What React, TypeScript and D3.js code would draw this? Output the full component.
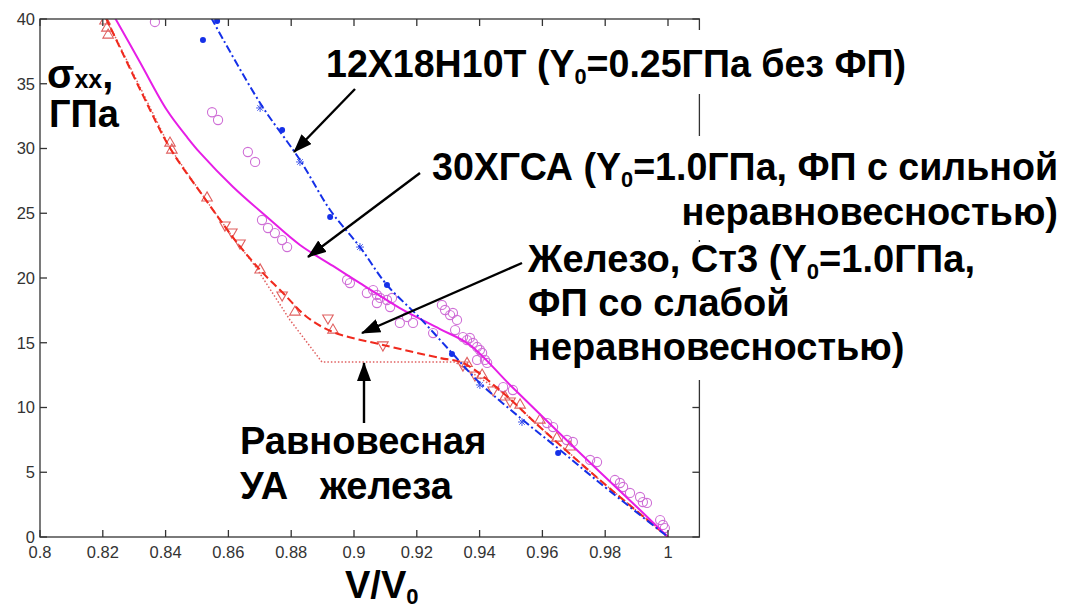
import React from "react";
import * as d3 from "d3";

type Pt = [number, number];

// axis ticks
const xTicks = [0.8, 0.82, 0.84, 0.86, 0.88, 0.9, 0.92, 0.94, 0.96, 0.98, 1.0];
const xTickLabels = ["0.8", "0.82", "0.84", "0.86", "0.88", "0.9", "0.92", "0.94", "0.96", "0.98", "1"];
const yTicks = [0, 5, 10, 15, 20, 25, 30, 35, 40];

// 12Х18Н10Т, Y0 = 0.25 ГПа, no phase transition
const steelLine: Pt[] = [
  [0.8545, 40.1], [0.8701, 33.51], [0.8828, 29.11], [0.8924, 25.25], [0.9019, 22.39],
  [0.9105, 19.46], [0.921, 16.91], [0.9315, 14.13], [0.9401, 11.89], [0.9538, 9.03],
  [0.9656, 6.72], [0.9783, 4.17], [1.0, 0],
];
const steelDots: Pt[] = [
  [0.8519, 38.38], [0.8564, 39.85], [0.8771, 31.43], [0.8924, 24.71], [0.9105, 19.46],
  [0.9312, 14.13], [0.965, 6.49],
];
const steelStars: Pt[] = [
  [0.8701, 33.13], [0.8828, 28.96], [0.9019, 22.39], [0.9401, 11.74], [0.9535, 8.88],
];

// 30ХГСА, strongly non-equilibrium phase transition
const hgsaLine: Pt[] = [
  [0.8239, 40.08], [0.8318, 36.68], [0.8404, 32.97], [0.8468, 30.89], [0.851, 29.66],
  [0.8615, 27.03], [0.8723, 24.71], [0.8828, 22.55], [0.8933, 20.93], [0.9019, 19.61],
  [0.9146, 17.68], [0.9274, 16.06], [0.9369, 14.83], [0.9497, 11.74], [0.9634, 8.49],
  [0.9783, 5.02], [0.9911, 2.08], [1.0, 0],
];
const hgsaCircles: Pt[] = [
  [0.8366, 39.77], [0.8548, 32.8], [0.8567, 32.2], [0.8662, 29.73], [0.8685, 28.96],
  [0.8707, 24.48], [0.8726, 23.86], [0.8748, 23.47], [0.8771, 22.93], [0.8787, 22.39],
  [0.8978, 19.85], [0.8987, 19.61], [0.9041, 18.84], [0.9061, 19.07], [0.9073, 18.69],
  [0.9083, 18.46], [0.9105, 18.3], [0.9121, 18.46], [0.9073, 18.07], [0.9115, 17.76],
  [0.9169, 16.99], [0.9188, 16.53], [0.9146, 16.53], [0.9252, 15.75],
  [0.928, 17.92], [0.929, 17.53], [0.9306, 17.14], [0.9315, 17.3], [0.9328, 16.76],
  [0.9322, 15.98], [0.9347, 15.44], [0.936, 15.21], [0.9369, 15.37], [0.9379, 14.98],
  [0.9392, 14.67], [0.9401, 14.44], [0.9408, 14.21], [0.9392, 13.67], [0.9417, 13.67],
  [0.9424, 13.44], [0.9475, 11.58], [0.9506, 11.35], [0.9615, 8.8], [0.9634, 8.49],
  [0.9678, 7.49], [0.9697, 7.34], [0.9752, 5.95], [0.9774, 5.79], [0.9831, 4.4],
  [0.9847, 4.17], [0.9857, 3.86], [0.9879, 3.4], [0.9911, 3.09], [0.992, 2.7],
  [0.9933, 2.63], [0.9975, 1.31], [0.9984, 0.93], [0.999, 0.69],
];

// Железо, Ст3, weakly non-equilibrium phase transition
const ironLine: Pt[] = [
  [0.821, 40.08], [0.8318, 34.6], [0.8414, 30.04], [0.8532, 25.9], [0.8621, 22.93],
  [0.8701, 20.62], [0.8774, 18.84], [0.885, 16.99], [0.8933, 15.83], [0.9092, 14.83],
  [0.9274, 13.82], [0.9347, 13.44], [0.9475, 11.12], [0.9592, 8.49], [0.9783, 4.4],
  [1.0, 0],
];
const ironUp: Pt[] = [
  [0.8207, 39.85], [0.8213, 39.3], [0.8217, 38.76], [0.8414, 30.42], [0.842, 29.88],
  [0.8532, 26.18], [0.8701, 20.62], [0.8812, 17.37], [0.8933, 15.98], [0.936, 13.4],
  [0.9408, 12.5], [0.9481, 10.81], [0.9529, 10.19], [0.9592, 9.03], [0.9646, 7.64],
  [0.9688, 6.95],
];
const ironDown: Pt[] = [
  [0.8589, 24.09], [0.8611, 23.55], [0.8637, 22.7], [0.8771, 18.69], [0.8917, 16.91],
  [0.9092, 14.83], [0.9347, 13.28], [0.9385, 12.51], [0.9443, 11.35], [0.9497, 10.5],
];

// equilibrium shock adiabat of iron
const ironEquilibrium: Pt[] = [
  [0.821, 40.08], [0.8414, 30.04], [0.8532, 25.9], [0.8621, 22.93], [0.8685, 20.93],
  [0.8796, 16.76], [0.8898, 13.51], [0.9322, 13.51], [0.9475, 11.12], [0.9592, 8.49],
  [0.9783, 4.4], [1.0, 0],
];

const BLUE = "#1530e8";
const MAGENTA = "#e61ee6";
const MAGENTA_PALE = "#cf6fd6";
const RED = "#f02a1e";
const RED_PALE = "#e06060";
const FONT = "'Liberation Sans', Arial, sans-serif";

export default function App() {
  const W = 1067;
  const H = 611;
  const x = d3.scaleLinear().domain([0.8, 1.0]).range([40, 668]);
  const y = d3.scaleLinear().domain([0, 40]).range([537, 19]);
  const left = x(0.8);
  const right = x(1.01);
  const top = y(40);
  const bottom = y(0);

  const smooth = d3.line<Pt>().x((d) => x(d[0])).y((d) => y(d[1])).curve(d3.curveCatmullRom.alpha(0.5));
  const straight = d3.line<Pt>().x((d) => x(d[0])).y((d) => y(d[1]));
  const tri = d3.symbol().type(d3.symbolTriangle).size(48)() as string;

  const tick = 7;
  const big = { fontFamily: FONT, fontWeight: 700, fill: "#000" } as const;

  return (
    <svg width={W} height={H} style={{ position: "absolute", left: 0, top: 0, background: "#fff" }}>
      <defs>
        <clipPath id="plot">
          <rect x={left} y={top} width={right - left} height={bottom - top} />
        </clipPath>
        <marker id="head" markerUnits="userSpaceOnUse" markerWidth="20" markerHeight="16"
          refX="18" refY="7" orient="auto">
          <path d="M0,0 L19,7 L0,14 Z" fill="#000" />
        </marker>
      </defs>
      <rect width={W} height={H} fill="#fff" />

      {/* data */}
      <g clipPath="url(#plot)">
        {hgsaCircles.map((d, i) => (
          <circle key={"c" + i} cx={x(d[0])} cy={y(d[1])} r={4.6} fill="none"
            stroke={MAGENTA_PALE} strokeWidth={1.1} />
        ))}
        {ironUp.map((d, i) => (
          <path key={"u" + i} d={tri} transform={`translate(${x(d[0])},${y(d[1])})`}
            fill="none" stroke={RED_PALE} strokeWidth={1.1} />
        ))}
        {ironDown.map((d, i) => (
          <path key={"dn" + i} d={tri} transform={`translate(${x(d[0])},${y(d[1])}) rotate(180)`}
            fill="none" stroke={RED_PALE} strokeWidth={1.1} />
        ))}
        <path d={straight(ironEquilibrium) ?? ""} fill="none" stroke={RED_PALE}
          strokeWidth={1.5} strokeDasharray="1.5 2" />
        <path d={smooth(ironLine) ?? ""} fill="none" stroke={RED} strokeWidth={2.1}
          strokeDasharray="8 4" />
        <path d={smooth(hgsaLine) ?? ""} fill="none" stroke={MAGENTA} strokeWidth={2} />
        <path d={smooth(steelLine) ?? ""} fill="none" stroke={BLUE} strokeWidth={2}
          strokeDasharray="8 3 2 3" />
        {steelDots.map((d, i) => (
          <circle key={"b" + i} cx={x(d[0])} cy={y(d[1])} r={3} fill={BLUE} />
        ))}
        {steelStars.map((d, i) => {
          const cx = x(d[0]);
          const cy = y(d[1]);
          const r = 4;
          return (
            <g key={"s" + i} stroke={BLUE} strokeWidth={1} opacity={0.8}>
              <line x1={cx - r} y1={cy} x2={cx + r} y2={cy} />
              <line x1={cx} y1={cy - r} x2={cx} y2={cy + r} />
              <line x1={cx - r * 0.7} y1={cy - r * 0.7} x2={cx + r * 0.7} y2={cy + r * 0.7} />
              <line x1={cx - r * 0.7} y1={cy + r * 0.7} x2={cx + r * 0.7} y2={cy - r * 0.7} />
            </g>
          );
        })}
      </g>

      {/* axes box and ticks */}
      <g stroke="#333" strokeWidth={1.3} fill="none">
        <rect x={left} y={top} width={right - left} height={bottom - top} />
        {xTicks.map((t) => (
          <g key={"xt" + t}>
            <line x1={x(t)} x2={x(t)} y1={bottom} y2={bottom - tick} />
            <line x1={x(t)} x2={x(t)} y1={top} y2={top + tick} />
          </g>
        ))}
        {yTicks.map((t) => (
          <g key={"yt" + t}>
            <line x1={left} x2={left + tick} y1={y(t)} y2={y(t)} />
            <line x1={right} x2={right - tick} y1={y(t)} y2={y(t)} />
          </g>
        ))}
      </g>
      <g fontFamily={FONT} fontSize={16.5} fill="#333">
        {xTicks.map((t, i) => (
          <text key={"xl" + t} x={x(t)} y={bottom + 21} textAnchor="middle">{xTickLabels[i]}</text>
        ))}
        {yTicks.map((t) => (
          <text key={"yl" + t} x={left - 5} y={y(t)} dy="0.35em" textAnchor="end">{t}</text>
        ))}
      </g>

      {/* annotation backgrounds */}
      <g fill="#fff">
        <rect x={316} y={30} width={600} height={64} />
        <rect x={425} y={136} width={642} height={104} />
        <rect x={520} y={242} width={470} height={138} />
      </g>

      {/* axis titles */}
      <text x={47} y={88} {...big} fontSize={40}>σ<tspan fontSize={25}>xx</tspan>,</text>
      <text x={49} y={127} {...big} fontSize={38}>ГПа</text>
      <text x={345} y={598} {...big} fontSize={38}>V/V<tspan fontSize={22} dy={6}>0</tspan></text>

      {/* annotations */}
      <text x={326} y={77} {...big} fontSize={38} textLength={580} lengthAdjust="spacingAndGlyphs">
        12Х18Н10Т (Y<tspan fontSize={22} dy={7}>0</tspan><tspan dy={-7}>=0.25ГПа без ФП)</tspan>
      </text>
      <text x={432} y={180} {...big} fontSize={38} textLength={626} lengthAdjust="spacingAndGlyphs">
        30ХГСА (Y<tspan fontSize={22} dy={7}>0</tspan><tspan dy={-7}>=1.0ГПа, ФП с сильной</tspan>
      </text>
      <text x={1058} y={225} {...big} fontSize={38} textAnchor="end">неравновесностью)</text>
      <text x={528} y={272} {...big} fontSize={38} textLength={447} lengthAdjust="spacingAndGlyphs">
        Железо, Ст3 (Y<tspan fontSize={22} dy={7}>0</tspan><tspan dy={-7}>=1.0ГПа,</tspan>
      </text>
      <text x={528} y={316} {...big} fontSize={38}>ФП со слабой</text>
      <text x={528} y={360} {...big} fontSize={38}>неравновесностью)</text>
      <text x={240} y={454} {...big} fontSize={38}>Равновесная</text>
      <text x={240} y={499} {...big} fontSize={38} style={{ whiteSpace: "pre" }}>УА   железа</text>

      {/* arrows */}
      <g stroke="#000" strokeWidth={2.4} markerEnd="url(#head)">
        <line x1={355} y1={89} x2={294} y2={152} />
        <line x1={420} y1={173} x2={308} y2={257} />
        <line x1={522} y1={263} x2={362} y2={333} />
        <line x1={364} y1={423} x2={364} y2={363} />
      </g>
    </svg>
  );
}
